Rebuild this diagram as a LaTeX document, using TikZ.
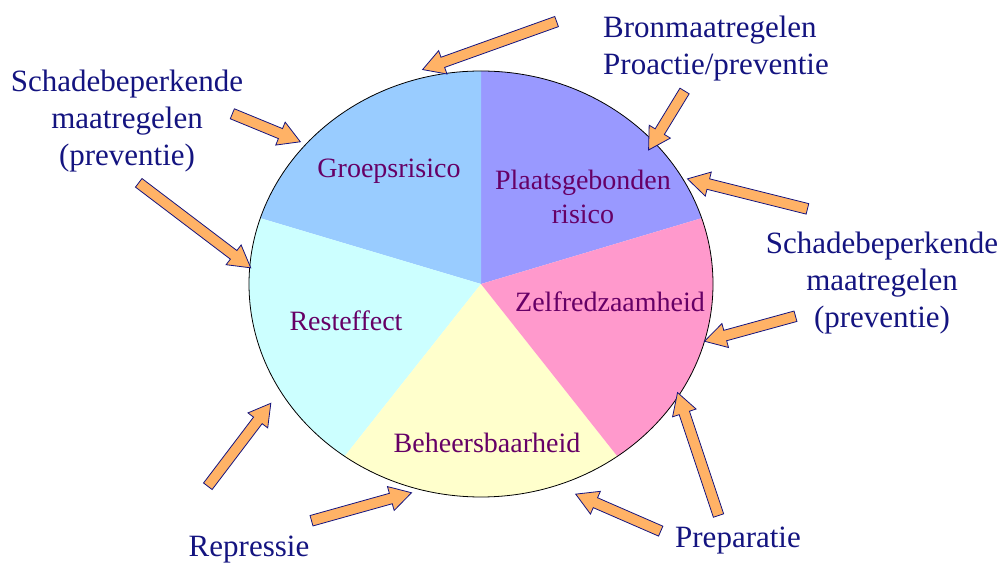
\documentclass[tikz,border=0pt]{standalone}
\usepackage{fontspec}
\setmainfont{Liberation Serif}
\usetikzlibrary{shapes.arrows,calc}
\definecolor{navytext}{RGB}{20,20,128}
\definecolor{slicetext}{RGB}{102,0,102}
\definecolor{arroworange}{RGB}{255,178,102}
\definecolor{groepblue}{RGB}{153,204,255}
\definecolor{plaatsblue}{RGB}{153,153,255}
\definecolor{zelfpink}{RGB}{255,153,204}
\definecolor{beheeryellow}{RGB}{255,255,204}
\definecolor{restcyan}{RGB}{204,255,255}

\tikzset{
  slicelabel/.style={text=slicetext, font=\fontsize{28}{34}\selectfont, align=center, inner sep=0pt},
  measure/.style={text=navytext, font=\fontsize{31}{37}\selectfont, align=center, inner sep=0pt},
  pijl/.style={single arrow, draw=navytext, fill=arroworange, line width=0.8pt,
    inner xsep=0pt, inner ysep=5pt, single arrow head extend=7pt,
    single arrow tip angle=60, single arrow head indent=0pt}
}
% block arrow: name, tail, tip
\newcommand{\blokpijl}[3]{%
  \path let \p1=($(#3)-(#2)$), \n1={atan2(\y1,\x1)}, \n2={veclen(\x1,\y1)} in
    node[pijl, minimum height=\n2, rotate=\n1] (#1) at ($(#2)!0.5!(#3)$) {};}

\begin{document}
\begin{tikzpicture}[x=1pt, y=1pt]
  \useasboundingbox (0,0) rectangle (1003,562);
  \coordinate (centre) at (481,278);
  % pie slices
  \foreach \a/\b/\c in {18/90/plaatsblue, 90/162/groepblue, 162/234/restcyan, 234/306/beheeryellow, 306/378/zelfpink}
    \fill[\c] (centre) -- +(\a:232pt and 213pt) arc[start angle=\a, end angle=\b, x radius=232pt, y radius=213pt] -- cycle;
  \draw[line width=0.8pt] (centre) ellipse[x radius=232pt, y radius=213pt];

  \node[slicelabel] (groep) at (389,391) {Groepsrisico};
  \node[slicelabel] (plaats) at (583,365) {Plaatsgebonden\\risico};
  \node[slicelabel] (zelf) at (610,260) {Zelfredzaamheid};
  \node[slicelabel] (rest) at (346,241) {Resteffect};
  \node[slicelabel] (beheer) at (487,119) {Beheersbaarheid};

  \node[measure, align=left, anchor=west] (bron) at (603,513) {Bronmaatregelen\\Proactie/preventie};
  \node[measure] (schadelinks) at (127,441) {Schadebeperkende\\maatregelen\\(preventie)};
  \node[measure] (schaderechts) at (882,279) {Schadebeperkende\\maatregelen\\(preventie)};
  \node[measure] (repressie) at (249,12) {Repressie};
  \node[measure] (preparatie) at (738,21) {Preparatie};

  % arrows towards the pie
  \foreach \k/\tx/\ty/\px/\py in {1/561/542/427/494, 2/687/475/651/416, 3/228/450/296/422,
      4/135/382/247/297, 5/812/352/692/382, 6/800/247/709/222, 7/205/72/268/155,
      8/307/40/407/68, 9/720/42/679/165, 10/665/29/580/66} {
    \coordinate (staart\k) at (\tx,\ty);
    \coordinate (punt\k) at (\px,\py);
    \blokpijl{pijl\k}{staart\k}{punt\k}
  }
\end{tikzpicture}
\end{document}
